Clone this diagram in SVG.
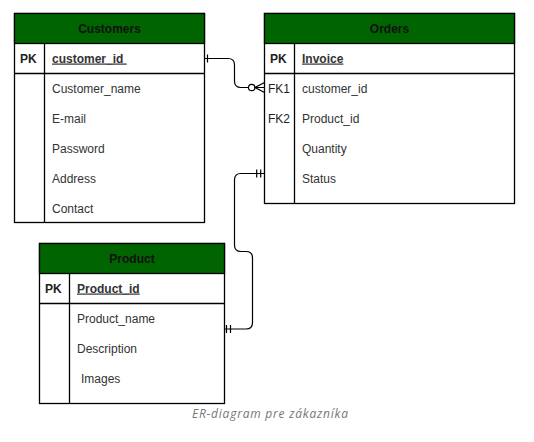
<svg xmlns="http://www.w3.org/2000/svg" width="534" height="442" viewBox="0 0 534 442">
<style>
.box{fill:#fff;stroke:#000;stroke-width:1.3}
.hdr{fill:#006400;stroke:#000;stroke-width:1.3}
.ln{stroke:#000;stroke-width:1.3;fill:none}
.ttl{font-family:"Liberation Sans",Arial,sans-serif;font-size:12px;font-weight:bold;fill:#111;text-anchor:middle}
.k{font-family:"Liberation Sans",Arial,sans-serif;font-size:12px;font-weight:bold;fill:#222}
.kn{font-family:"Liberation Sans",Arial,sans-serif;font-size:12px;fill:#222}
.f{font-family:"Liberation Sans",Arial,sans-serif;font-size:12px;fill:#333}
.pk{font-family:"Liberation Sans",Arial,sans-serif;font-size:12px;font-weight:bold;fill:#333;text-decoration:underline}
.cap{font-family:"Open Sans","Liberation Sans",sans-serif;font-size:12px;font-style:italic;fill:#777}
.c{stroke:#000;stroke-width:1.2;fill:none}
</style>
<g id="customers">
<rect class="box" x="14.5" y="13.5" width="190" height="209"/>
<rect class="hdr" x="14.5" y="13.5" width="190" height="30"/>
<line class="ln" x1="14.5" y1="73.5" x2="204.5" y2="73.5"/>
<line class="ln" x1="44.5" y1="43.5" x2="44.5" y2="222.5"/>
<text class="ttl" x="109.5" y="32.5">Customers</text>
<text class="k" x="20" y="62.5">PK</text>
<text class="pk" x="52" y="62.5">customer_id&#160;</text>
<text class="f" x="52" y="92.5">Customer_name</text>
<text class="f" x="52" y="122.5">E-mail</text>
<text class="f" x="52" y="152.5">Password</text>
<text class="f" x="52" y="182.5">Address</text>
<text class="f" x="52" y="212.5">Contact</text>
</g>
<g id="orders">
<rect class="box" x="264.5" y="13.5" width="250" height="190"/>
<rect class="hdr" x="264.5" y="13.5" width="250" height="30"/>
<line class="ln" x1="264.5" y1="73.5" x2="514.5" y2="73.5"/>
<line class="ln" x1="294.5" y1="43.5" x2="294.5" y2="203.5"/>
<text class="ttl" x="389.5" y="32.5">Orders</text>
<text class="k" x="270" y="62.5">PK</text>
<text class="pk" x="302" y="62.5">Invoice</text>
<text class="kn" x="268" y="92.5">FK1</text>
<text class="kn" x="268" y="122.5">FK2</text>
<text class="f" x="302" y="92.5">customer_id</text>
<text class="f" x="302" y="122.5">Product_id</text>
<text class="f" x="302" y="152.5">Quantity</text>
<text class="f" x="302" y="182.5">Status</text>
</g>
<g id="product">
<rect class="box" x="39.5" y="243.5" width="185" height="160"/>
<rect class="hdr" x="39.5" y="243.5" width="185" height="30"/>
<line class="ln" x1="39.5" y1="303.5" x2="224.5" y2="303.5"/>
<line class="ln" x1="69.5" y1="273.5" x2="69.5" y2="403.5"/>
<text class="ttl" x="132" y="262.5">Product</text>
<text class="k" x="45" y="292.5">PK</text>
<text class="pk" x="77" y="292.5">Product_id</text>
<text class="f" x="77" y="322.5">Product_name</text>
<text class="f" x="77" y="352.5">Description</text>
<text class="f" x="81" y="382.5">Images</text>
</g>
<g id="connectors">
<path class="c" d="M204.5 58.5 H228 Q234.5 58.5 234.5 65 V81 Q234.5 87.5 241 87.5 H248.5"/>
<line class="c" x1="207.5" y1="54.5" x2="207.5" y2="62.5"/>
<circle class="c" cx="251.7" cy="87.5" r="3.2"/>
<path class="c" d="M255 87.5 H264.5 M264.5 82.5 L255 87.5 L264.5 92.5"/>
<path class="c" d="M264.5 173.5 H241 Q234.5 173.5 234.5 180 V245 Q234.5 251.5 241 251.5 H246 Q252.5 251.5 252.5 258 V322.5 Q252.5 329 246 329 H224.5"/>
<path class="c" d="M256.7 169.5 V177.5 M260.7 169.5 V177.5"/>
<path class="c" d="M226.5 325 V333 M230.5 325 V333"/>
</g>
<text class="cap" x="192" y="418" textLength="156" lengthAdjust="spacing">ER-diagram pre zákazníka</text>
</svg>
